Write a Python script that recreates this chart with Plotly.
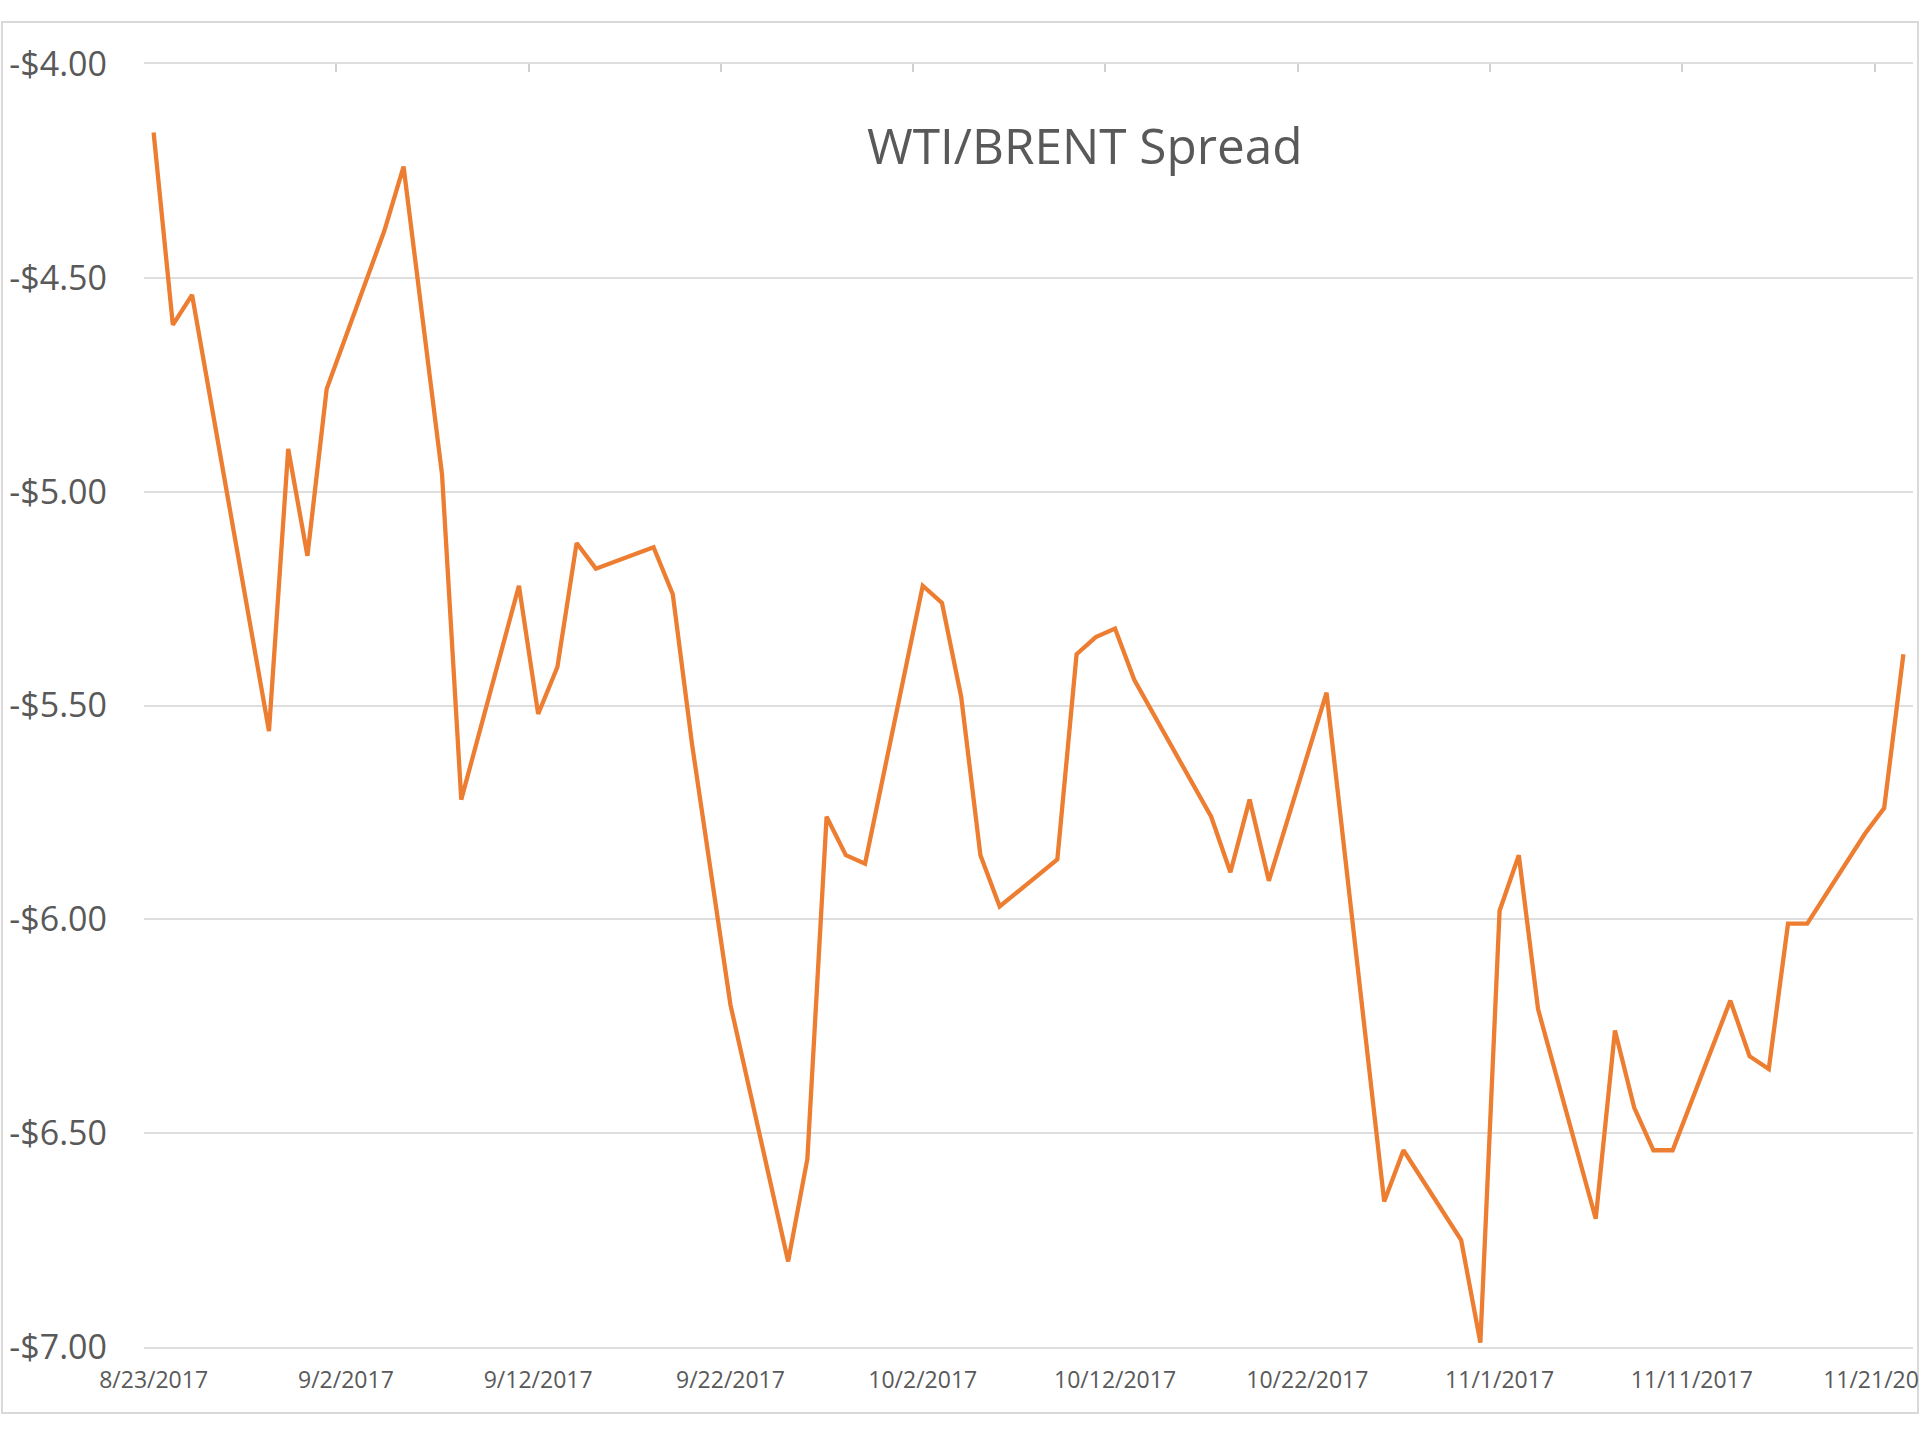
import plotly.graph_objects as go
import pandas as pd

# ---- data ----
dates = [
    "2017-08-23", "2017-08-24", "2017-08-25", "2017-08-29", "2017-08-30", "2017-08-31",
    "2017-09-01", "2017-09-04", "2017-09-05", "2017-09-07", "2017-09-08", "2017-09-11",
    "2017-09-12", "2017-09-13", "2017-09-14", "2017-09-15", "2017-09-18", "2017-09-19",
    "2017-09-20", "2017-09-22", "2017-09-25", "2017-09-26", "2017-09-27", "2017-09-28",
    "2017-09-29", "2017-10-02", "2017-10-03", "2017-10-04", "2017-10-05", "2017-10-06",
    "2017-10-09", "2017-10-10", "2017-10-11", "2017-10-12", "2017-10-13", "2017-10-16",
    "2017-10-17", "2017-10-18", "2017-10-19", "2017-10-20", "2017-10-23", "2017-10-26",
    "2017-10-27", "2017-10-30", "2017-10-31", "2017-11-01", "2017-11-02", "2017-11-03",
    "2017-11-06", "2017-11-07", "2017-11-08", "2017-11-09", "2017-11-10", "2017-11-13",
    "2017-11-14", "2017-11-15", "2017-11-16", "2017-11-17", "2017-11-20", "2017-11-21",
    "2017-11-22",
]
spread = [
    -4.16, -4.61, -4.54, -5.56, -4.90, -5.15,
    -4.76, -4.39, -4.24, -4.96, -5.72, -5.22,
    -5.52, -5.41, -5.12, -5.18, -5.13, -5.24,
    -5.59, -6.20, -6.80, -6.56, -5.76, -5.85,
    -5.87, -5.22, -5.26, -5.48, -5.85, -5.97,
    -5.86, -5.38, -5.34, -5.32, -5.44, -5.68,
    -5.76, -5.89, -5.72, -5.91, -5.47, -6.66,
    -6.54, -6.75, -6.99, -5.98, -5.85, -6.21,
    -6.70, -6.26, -6.44, -6.54, -6.54, -6.19,
    -6.32, -6.35, -6.01, -6.01, -5.80, -5.74,
    -5.38,
]
x_tick_dates = [
    "2017-08-23", "2017-09-02", "2017-09-12", "2017-09-22", "2017-10-02",
    "2017-10-12", "2017-10-22", "2017-11-01", "2017-11-11", "2017-11-21",
]
x_tick_labels = [
    "8/23/2017", "9/2/2017", "9/12/2017", "9/22/2017", "10/2/2017",
    "10/12/2017", "10/22/2017", "11/1/2017", "11/11/2017", "11/21/2017",
]
y_tick_values = [-4.0, -4.5, -5.0, -5.5, -6.0, -6.5, -7.0]
y_tick_labels = ["-$4.00", "-$4.50", "-$5.00", "-$5.50", "-$6.00", "-$6.50", "-$7.00"]
title_text = "WTI/BRENT Spread"

# ---- styling ----
FONT = "Open Sans"
TEXT_COLOR = "#595959"
LINE_COLOR = "#ED7D31"
GRID_COLOR = "#dedede"

x_dt = pd.to_datetime(dates)
half_day = pd.Timedelta(hours=12)
x_range = [x_dt[0] - half_day, x_dt[-1] + half_day]
boundary_ticks = [pd.Timestamp(d) - half_day for d in x_tick_dates]

fig = go.Figure()
fig.add_trace(go.Scatter(
    x=x_dt, y=spread, mode="lines",
    line=dict(color=LINE_COLOR, width=4.3),
    showlegend=False, hoverinfo="x+y",
))
# invisible companion trace so the top tick-mark axis is rendered
fig.add_trace(go.Scatter(
    x=x_dt, y=spread, mode="lines", xaxis="x2",
    line=dict(color="rgba(0,0,0,0)", width=0),
    showlegend=False, hoverinfo="skip",
))

fig.update_layout(
    width=1920, height=1440,
    margin=dict(l=144, r=7, t=64, b=93, pad=0, autoexpand=False),
    paper_bgcolor="white", plot_bgcolor="white",
    font=dict(family=FONT, color=TEXT_COLOR),
    xaxis=dict(
        type="date", range=x_range, automargin=False,
        tickmode="array", tickvals=pd.to_datetime(x_tick_dates), ticktext=x_tick_labels,
        tickfont=dict(size=23, color=TEXT_COLOR, family=FONT),
        showgrid=False, zeroline=False, ticks="",
        showline=True, mirror=True, linecolor=GRID_COLOR, linewidth=1.5,
        ticklabelstandoff=12, ticklabeloverflow="allow",
    ),
    xaxis2=dict(
        type="date", range=x_range, overlaying="x", side="top", anchor="y",
        automargin=False,
        tickmode="array", tickvals=boundary_ticks,
        showticklabels=False, ticks="inside", ticklen=8, tickwidth=1.5,
        tickcolor="#d0d0d0", showgrid=False, zeroline=False, showline=False,
    ),
    yaxis=dict(
        range=[-7.0, -4.0], automargin=False,
        tickmode="array", tickvals=y_tick_values, ticktext=y_tick_labels,
        tickfont=dict(size=34, color=TEXT_COLOR, family=FONT),
        showgrid=True, gridcolor=GRID_COLOR, gridwidth=1.5,
        zeroline=False, showline=False, ticks="",
        ticklabelstandoff=36,
    ),
    annotations=[dict(
        text=title_text, xref="paper", yref="paper",
        x=0.532, y=0.937, xanchor="center", yanchor="middle",
        showarrow=False, font=dict(size=49.5, color=TEXT_COLOR, family=FONT),
    )],
    shapes=[dict(
        type="rect", xref="paper", yref="paper",
        x0=-0.0803, x1=1.0028, y0=-0.0514, y1=1.0327,
        line=dict(color="#d9d9d9", width=2), fillcolor="rgba(0,0,0,0)",
        layer="below",
    )],
)

fig.write_html(
    "out.html",
    config={"displayModeBar": False},
    post_script="document.body.style.margin='0';document.body.style.overflow='hidden';",
)
